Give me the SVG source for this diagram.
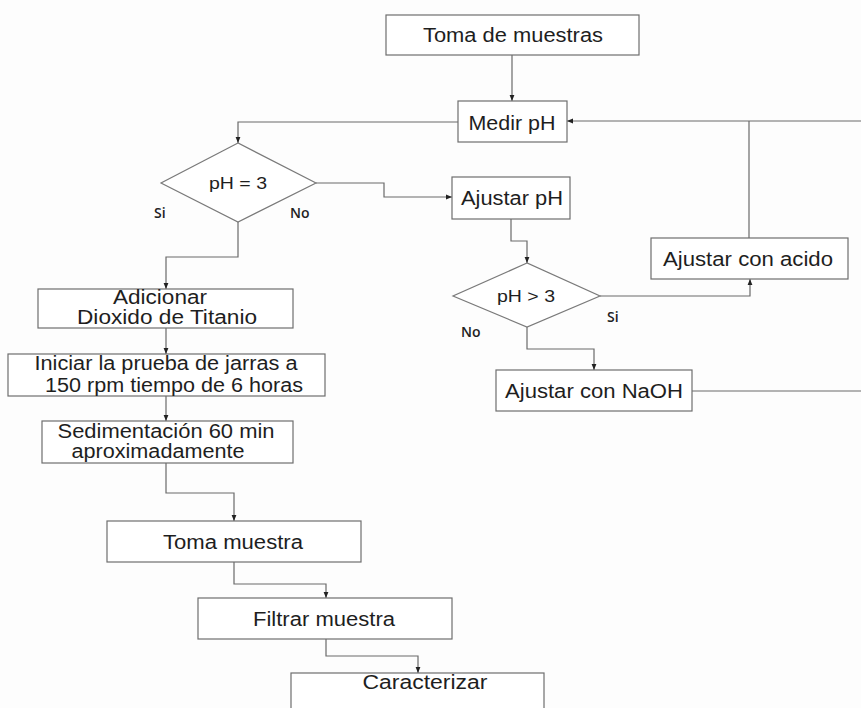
<svg xmlns="http://www.w3.org/2000/svg" width="861" height="708" viewBox="0 0 861 708">
  <style>
    .box { fill: #ffffff; stroke: #6e6e6e; stroke-width: 1.2; }
    .dec { fill: #ffffff; stroke: #7a7a7a; stroke-width: 1.2; }
    .lbl { font-family: "Liberation Sans", Arial, sans-serif; font-size: 20px; fill: #1e1e1e; text-anchor: middle; }
    .dlbl { font-family: "Liberation Sans", Arial, sans-serif; font-size: 16px; fill: #1e1e1e; text-anchor: middle; }
    .yn { font-family: "Open Sans", "Liberation Sans", sans-serif; font-size: 14px; font-weight: 600; fill: #222; }
    .wire { fill: none; stroke: #6a6a6a; stroke-width: 1.2; }
    .arr { marker-end: url(#head); }
  </style>
  <defs>
    <marker id="head" viewBox="0 0 10 10" refX="10" refY="5" markerWidth="6" markerHeight="6" markerUnits="userSpaceOnUse" orient="auto">
      <path d="M0,1 L10,5 L0,9 Z" fill="#222"/>
    </marker>
  </defs>

  <rect width="861" height="708" fill="#fdfdfd"/>

  <!-- connectors -->
  <g id="connectors">
    <path class="wire arr" d="M512,55 V101"/>
    <path class="wire arr" d="M458,122 H238 V143"/>
    <path class="wire arr" d="M861,121 H567"/>
    <path class="wire" d="M749,121 V238"/>
    <path class="wire arr" d="M316,183 H384 V197 H452"/>
    <path class="wire arr" d="M511,219 V241 H527 V263"/>
    <path class="wire arr" d="M600,296 H750 V279"/>
    <path class="wire arr" d="M527,327 V349 H594 V370"/>
    <path class="wire" d="M692,391 H861"/>
    <path class="wire arr" d="M238,222 V257 H166 V289"/>
    <path class="wire arr" d="M166,328 V354"/>
    <path class="wire arr" d="M166,396 V421"/>
    <path class="wire arr" d="M166,463 V493 H234 V521"/>
    <path class="wire arr" d="M234,562 V584 H326 V598"/>
    <path class="wire arr" d="M326,639 V656 H418 V673"/>
  </g>

  <g id="toma-muestras">
    <rect class="box" x="386" y="15" width="253" height="40"/>
    <text class="lbl" x="513" y="42" textLength="180" lengthAdjust="spacingAndGlyphs">Toma de muestras</text>
  </g>

  <g id="medir-ph">
    <rect class="box" x="458" y="101" width="109" height="41"/>
    <text class="lbl" x="512" y="130" textLength="87" lengthAdjust="spacingAndGlyphs">Medir pH</text>
  </g>

  <g id="decision-ph-igual-3">
    <polygon class="dec" points="238,143 161,183 238,222 316,183"/>
    <text class="dlbl" x="238" y="189" textLength="58" lengthAdjust="spacingAndGlyphs">pH = 3</text>
    <text class="yn" x="154" y="218">Si</text>
    <text class="yn" x="290" y="218">No</text>
  </g>

  <g id="ajustar-ph">
    <rect class="box" x="452" y="177" width="118" height="42"/>
    <text class="lbl" x="512" y="205" textLength="102" lengthAdjust="spacingAndGlyphs">Ajustar pH</text>
  </g>

  <g id="decision-ph-mayor-3">
    <polygon class="dec" points="527,263 453,296 527,327 600,296"/>
    <text class="dlbl" x="526" y="302" textLength="58" lengthAdjust="spacingAndGlyphs">pH &gt; 3</text>
    <text class="yn" x="607" y="322">Si</text>
    <text class="yn" x="461" y="337">No</text>
  </g>

  <g id="ajustar-acido">
    <rect class="box" x="651" y="238" width="197" height="41"/>
    <text class="lbl" x="748" y="266" textLength="170" lengthAdjust="spacingAndGlyphs">Ajustar con acido</text>
  </g>

  <g id="ajustar-naoh">
    <rect class="box" x="496" y="370" width="196" height="41"/>
    <text class="lbl" x="594" y="398" textLength="178" lengthAdjust="spacingAndGlyphs">Ajustar con NaOH</text>
  </g>

  <g id="adicionar-tio2">
    <rect class="box" x="38" y="289" width="255" height="39"/>
    <text class="lbl" x="160" y="304" textLength="94" lengthAdjust="spacingAndGlyphs">Adicionar</text>
    <text class="lbl" x="167" y="324" textLength="180" lengthAdjust="spacingAndGlyphs">Dioxido de Titanio</text>
  </g>

  <g id="prueba-jarras">
    <rect class="box" x="8" y="354" width="317" height="42"/>
    <text class="lbl" x="166" y="370" textLength="263" lengthAdjust="spacingAndGlyphs">Iniciar la prueba de jarras a</text>
    <text class="lbl" x="174" y="392" textLength="258" lengthAdjust="spacingAndGlyphs">150 rpm tiempo de 6 horas</text>
  </g>

  <g id="sedimentacion">
    <rect class="box" x="42" y="421" width="251" height="42"/>
    <text class="lbl" x="166" y="438" textLength="217" lengthAdjust="spacingAndGlyphs">Sedimentación 60 min</text>
    <text class="lbl" x="158" y="458" textLength="173" lengthAdjust="spacingAndGlyphs">aproximadamente</text>
  </g>

  <g id="toma-muestra">
    <rect class="box" x="107" y="521" width="254" height="41"/>
    <text class="lbl" x="233" y="549" textLength="140" lengthAdjust="spacingAndGlyphs">Toma muestra</text>
  </g>

  <g id="filtrar-muestra">
    <rect class="box" x="198" y="598" width="254" height="41"/>
    <text class="lbl" x="324" y="626" textLength="142" lengthAdjust="spacingAndGlyphs">Filtrar muestra</text>
  </g>

  <g id="caracterizar">
    <rect class="box" x="291" y="673" width="253" height="50"/>
    <text class="lbl" x="425" y="689" textLength="125" lengthAdjust="spacingAndGlyphs">Caracterizar</text>
  </g>
</svg>
